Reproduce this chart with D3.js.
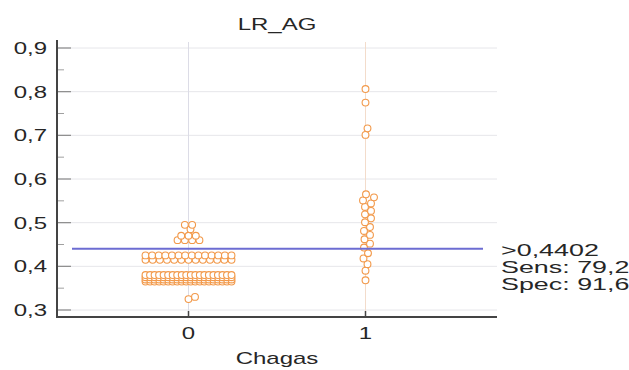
<!DOCTYPE html>
<html>
<head>
<meta charset="utf-8">
<script src="https://cdn.jsdelivr.net/npm/d3@7"></script>
<style>
  html, body { margin: 0; padding: 0; background: #fff; }
  svg text { font-family: "Liberation Sans", Arial, sans-serif; fill: #262626; }
</style>
</head>
<body>
<div id="chart"></div>
<script>
const title = "LR_AG";
const xLabel = "Chagas";
const categories = ["0", "1"];
const yTicks = [0.3, 0.4, 0.5, 0.6, 0.7, 0.8, 0.9];
const yMinorTicks = [0.35, 0.45, 0.55, 0.65, 0.75, 0.85];
const cutoff = 0.4402;
const cutoffLabels = [">0,4402", "Sens: 79,2", "Spec: 91,6"];

// Chagas = 0 (119 subjects)
const group0 = [
  0.325, 0.33,
  0.365, 0.365, 0.365, 0.365, 0.365, 0.365, 0.365, 0.365, 0.365, 0.365,
  0.365, 0.365, 0.365, 0.365, 0.365, 0.365, 0.365, 0.365, 0.365, 0.365,
  0.37, 0.37, 0.37, 0.37, 0.37, 0.37, 0.37, 0.37, 0.37, 0.37,
  0.37, 0.37, 0.37, 0.37, 0.37, 0.37, 0.37, 0.37, 0.37, 0.37,
  0.375, 0.375, 0.375, 0.375, 0.375, 0.375, 0.375, 0.375, 0.375, 0.375,
  0.375, 0.375, 0.375, 0.375, 0.375, 0.375, 0.375, 0.375, 0.375, 0.375,
  0.38, 0.38, 0.38, 0.38, 0.38, 0.38, 0.38, 0.38, 0.38, 0.38,
  0.38, 0.38, 0.38, 0.38, 0.38, 0.38, 0.38, 0.38, 0.38, 0.38,
  0.415, 0.415, 0.415, 0.415, 0.415, 0.415, 0.415, 0.415, 0.415, 0.415,
  0.415, 0.415, 0.415,
  0.425, 0.425, 0.425, 0.425, 0.425, 0.425, 0.425, 0.425, 0.425, 0.425,
  0.425, 0.425, 0.425, 0.425,
  0.46, 0.46, 0.46, 0.46,
  0.47, 0.47, 0.47,
  0.485,
  0.495, 0.495
];

// Chagas = 1 (24 subjects)
const group1 = [
  0.368, 0.39, 0.405, 0.418, 0.43,
  0.443, 0.452, 0.462, 0.472, 0.481, 0.49, 0.501, 0.51, 0.519, 0.527,
  0.536, 0.544, 0.551, 0.558, 0.565,
  0.701, 0.716, 0.775, 0.806
];

const width = 629, height = 370;
const r = 3.4;
const textScale = 1.5;

const svg = d3.select("#chart").append("svg")
  .attr("width", width)
  .attr("height", height);

const x = d3.scalePoint().domain(categories).range([57, 497]).padding(0.743);
const y = d3.scaleLinear().domain([0.3, 0.9]).range([310, 48]);
const axisY = 317;

function label(txt, tx, ty, anchor, sx = textScale) {
  return svg.append("text")
    .attr("transform", `translate(${tx},${ty}) scale(${sx},1)`)
    .attr("text-anchor", anchor)
    .attr("font-size", 16)
    .text(txt);
}

// grid
svg.append("g").selectAll("line").data(yTicks).join("line")
  .attr("x1", 58).attr("x2", 497)
  .attr("y1", d => y(d)).attr("y2", d => y(d))
  .attr("stroke", "#e6e6ea").attr("stroke-width", 1);

svg.append("g").selectAll("line").data(categories).join("line")
  .attr("x1", d => x(d)).attr("x2", d => x(d))
  .attr("y1", 42).attr("y2", axisY)
  .attr("stroke", (d, i) => i === 0 ? "#dcdce6" : "#f3dccb").attr("stroke-width", 1);

// y axis
const yAxis = svg.append("g");
yAxis.selectAll(".major").data(yTicks).join("line")
  .attr("x1", 58).attr("x2", 71)
  .attr("y1", d => y(d)).attr("y2", d => y(d))
  .attr("stroke", "#8a8a8a").attr("stroke-width", 1.2);
yAxis.selectAll(".minor").data(yMinorTicks).join("line")
  .attr("x1", 58).attr("x2", 64)
  .attr("y1", d => y(d)).attr("y2", d => y(d))
  .attr("stroke", "#a0a0a0").attr("stroke-width", 1);
svg.append("line")
  .attr("x1", 57).attr("x2", 57).attr("y1", 40).attr("y2", axisY + 1)
  .attr("stroke", "#444").attr("stroke-width", 2);
yTicks.forEach(t => {
  label(d3.format(".1f")(t).replace(".", ","), 47, y(t) + 6, "end");
});

// x axis
svg.append("line")
  .attr("x1", 56).attr("x2", 497).attr("y1", axisY).attr("y2", axisY)
  .attr("stroke", "#444").attr("stroke-width", 2);
svg.append("g").selectAll("line").data(categories).join("line")
  .attr("x1", d => x(d)).attr("x2", d => x(d))
  .attr("y1", axisY - 6).attr("y2", axisY)
  .attr("stroke", "#444").attr("stroke-width", 1.5);
categories.forEach(c => label(c, x(c), 339, "middle"));

label(title, 277, 30, "middle");
label(xLabel, 277, 364, "middle");

// dot layout: equal values side by side, single values nudged apart
function layout(values, cx) {
  const rows = d3.groups(values, v => Math.round(v * 200 + 1e-9))
    .sort((a, b) => a[0] - b[0]);
  const maxHalf = 43;
  const placed = [];
  rows.forEach(([, vals]) => {
    const n = vals.length;
    if (n > 1) {
      const step = Math.min(2 * r + 0.5, (2 * maxHalf) / (n - 1));
      vals.forEach((v, i) => placed.push({ v, x: cx + (i - (n - 1) / 2) * step, y: y(v) }));
    } else {
      const v = vals[0];
      const py = y(v);
      let off = 0;
      for (let k = 0; k < 60; k++) {
        const cand = (k % 2 ? 1 : -1) * Math.ceil(k / 2) * 0.5;
        const ok = placed.every(p => Math.hypot(p.x - (cx + cand), p.y - py) >= 2 * r);
        if (ok) { off = cand; break; }
      }
      placed.push({ v, x: cx + off, y: py });
    }
  });
  return placed;
}

const dots = [
  ...layout(group0, x("0")),
  ...layout(group1, x("1"))
];

svg.append("g").selectAll("circle").data(dots).join("circle")
  .attr("cx", d => d.x).attr("cy", d => d.y).attr("r", r)
  .attr("fill", "#fff")
  .attr("stroke", "#f2994a").attr("stroke-width", 1.1);

// cutoff line
svg.append("line")
  .attr("x1", 72).attr("x2", 483)
  .attr("y1", y(cutoff)).attr("y2", y(cutoff))
  .attr("stroke", "#6c6cd2").attr("stroke-width", 2);

cutoffLabels.forEach((t, i) => label(t, 501, 256 + i * 17, "start", 1.68));
</script>
</body>
</html>
